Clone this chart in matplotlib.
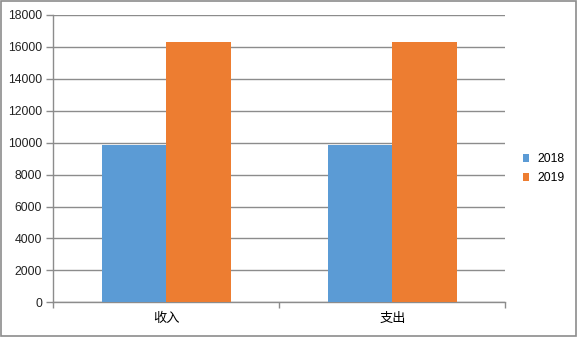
import matplotlib
matplotlib.use("Agg")
import matplotlib.pyplot as plt
from matplotlib.patches import Rectangle
import numpy as np

categories = ["收入", "支出"]
series_names = ["2018", "2019"]
values_2018 = [9850, 9850]
values_2019 = [16320, 16320]
yticks = list(range(0, 18001, 2000))

colors = ["#5B9BD5", "#ED7D31"]
plt.rcParams['font.family'] = ['Liberation Sans', 'Noto Sans CJK SC', 'DejaVu Sans']

fig = plt.figure(figsize=(5.77, 3.37), dpi=100)
ax = fig.add_axes([0.0924, 0.103, 0.7834, 0.8525])

x = np.arange(len(categories))
w = 1 / 3.5
ax.bar(x - w / 2, values_2018, width=w, color=colors[0], label=series_names[0], zorder=3)
ax.bar(x + w / 2, values_2019, width=w, color=colors[1], label=series_names[1], zorder=3)

ax.set_xlim(-0.5, len(categories) - 0.5)
ax.set_ylim(0, 18000)
ax.set_yticks(yticks)
ax.set_yticklabels([str(v) for v in yticks], fontsize=8.8, color="#222222")
ax.yaxis.grid(True, color="#8c8c8c", linewidth=1, zorder=0)
ax.set_axisbelow(True)

ax.set_xticks(x)
ax.set_xticklabels(categories, fontsize=9.5, family=['Noto Sans CJK SC', 'DejaVu Sans'])
ax.tick_params(axis='x', length=0, pad=7)
ax.set_xticks(np.arange(-0.5, len(categories), 1.0), minor=True)
ax.tick_params(axis='x', which='minor', length=4, color="#8c8c8c", width=1)
ax.tick_params(axis='y', length=5, color="#8c8c8c", width=1, pad=3)

for s in ["top", "right"]:
    ax.spines[s].set_visible(False)
for s in ["left", "bottom"]:
    ax.spines[s].set_color("#8c8c8c")
    ax.spines[s].set_linewidth(1)

ax.legend(loc="center left", bbox_to_anchor=(1.039, 0.465), frameon=False,
          fontsize=8.8, handlelength=0.5, handleheight=0.6, handletextpad=0.72,
          labelspacing=0.6, borderaxespad=0, borderpad=0)

fig.patches.append(Rectangle((0.002, 0.003), 0.996, 0.994, transform=fig.transFigure,
                             fill=False, edgecolor="#8c8c8c", linewidth=1.2))

fig.savefig("out.png", dpi=100)
